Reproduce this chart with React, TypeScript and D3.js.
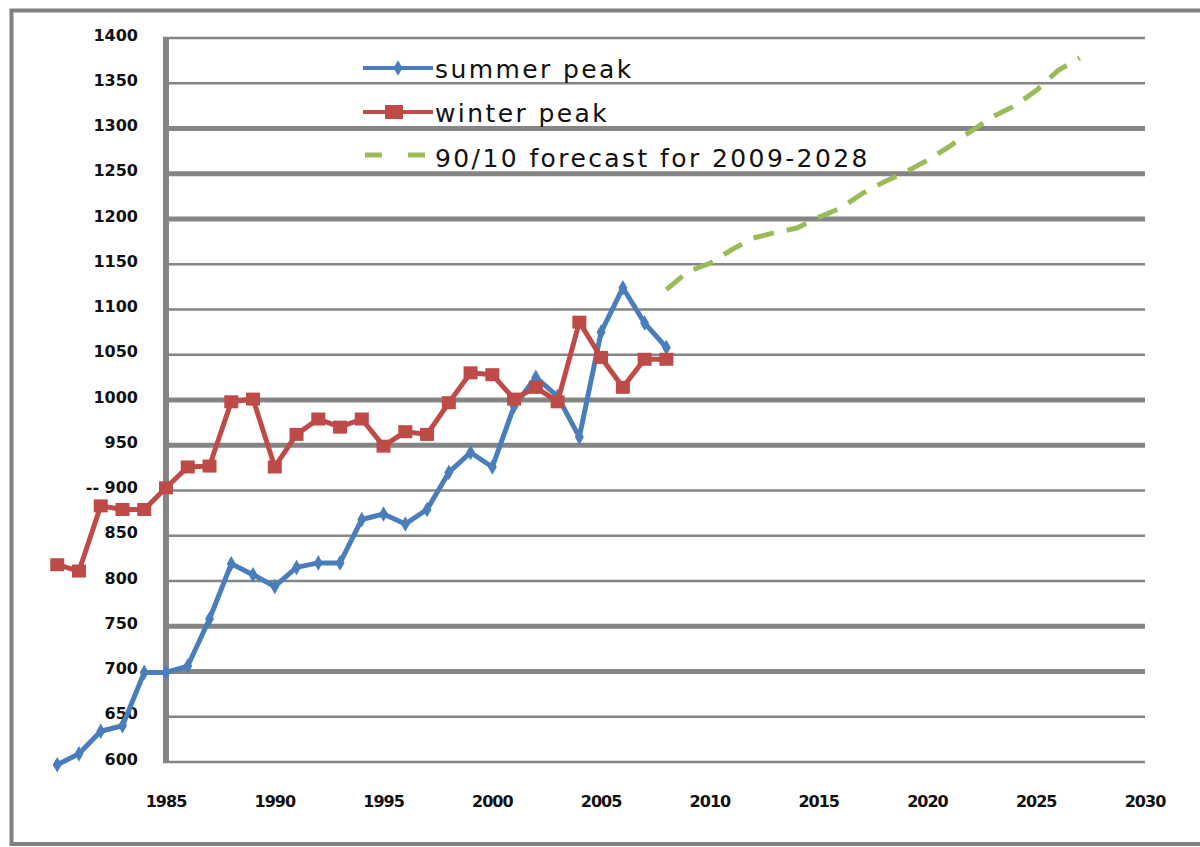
import React from 'react';
import * as d3 from 'd3';

const width = 1200;
const height = 847;

// observed peaks, 1980-2008
const histYears = [1980, 1981, 1982, 1983, 1984, 1985, 1986, 1987, 1988, 1989, 1990, 1991, 1992, 1993, 1994,
  1995, 1996, 1997, 1998, 1999, 2000, 2001, 2002, 2003, 2004, 2005, 2006, 2007, 2008];
const summerPeak = [597, 609, 634, 640, 699, 699, 706, 758, 819, 807, 794, 815, 820, 820, 868,
  874, 863, 879, 920, 942, 926, 993, 1025, 1004, 959, 1075, 1124, 1085, 1058];
const winterPeak = [818, 811, 883, 879, 879, 903, 926, 927, 998, 1001, 926, 962, 979, 970, 979,
  949, 965, 962, 997, 1030, 1028, 1001, 1014, 998, 1086, 1047, 1014, 1045, 1045];

// 90/10 forecast
const forecastYears = [2008, 2009, 2010, 2011, 2012, 2013, 2014, 2015, 2016, 2017, 2018, 2019, 2020,
  2021, 2022, 2023, 2024, 2025, 2026, 2027];
const forecast = [1122, 1142, 1151, 1166, 1179, 1185, 1190, 1202, 1212, 1228, 1241, 1252, 1265,
  1280, 1297, 1313, 1325, 1342, 1364, 1378];

const xTicks = [1985, 1990, 1995, 2000, 2005, 2010, 2015, 2020, 2025, 2030];
const yTicks = [600, 650, 700, 750, 800, 850, 900, 950, 1000, 1050, 1100, 1150, 1200, 1250, 1300, 1350, 1400];
const yTickLabels = ['600', '650', '700', '750', '800', '850', '-- 900', '950', '1000', '1050', '1100',
  '1150', '1200', '1250', '1300', '1350', '1400'];
const heavyGrid = [700, 750, 950, 1000, 1200, 1250, 1300];

const seriesNames = ['summer peak', 'winter peak', '90/10 forecast for 2009-2028'];

const blue = '#4A7EBB';
const red = '#BE4B48';
const green = '#9BBB59';
const gridGray = '#858585';

const xScale = d3.scaleLinear().domain([1985, 2030]).range([166, 1145]);
const yScale = d3.scaleLinear().domain([600, 1400]).range([762, 38]);

const line = d3.line<[number, number]>()
  .x(d => xScale(d[0]))
  .y(d => yScale(d[1]));

const diamond = d3.symbol().type(d3.symbolDiamond).size(70)();

const tickFont = '"DejaVu Sans", Verdana, sans-serif';

function App() {
  const summer = histYears.map((y, i) => [y, summerPeak[i]] as [number, number]);
  const winter = histYears.map((y, i) => [y, winterPeak[i]] as [number, number]);
  const fc = forecastYears.map((y, i) => [y, forecast[i]] as [number, number]);
  const [x0, x1] = xScale.range();

  return (
    <svg width={width} height={height} style={{ position: 'absolute', left: 0, top: 0, background: '#fff' }}>
      <rect x={11.5} y={10.5} width={1200} height={833.5} fill="none" stroke="#808080" strokeWidth={4} />

      {/* gridlines */}
      {yTicks.map(t => (
        <line key={t} x1={x0 - 3} x2={x1} y1={yScale(t)} y2={yScale(t)}
          stroke={gridGray} strokeWidth={heavyGrid.includes(t) ? 5 : 2.5} />
      ))}
      <line x1={x0} x2={x0} y1={yScale(1400) - 1} y2={yScale(600) + 1} stroke={gridGray} strokeWidth={6} />

      {/* y labels */}
      {yTicks.map((t, i) => (
        <text key={t} x={138} y={yScale(t) - 2} textAnchor="end" dominantBaseline="middle"
          fontFamily={tickFont} fontWeight="bold" fontSize={16} fill="#111">{yTickLabels[i]}</text>
      ))}

      {/* x labels */}
      {xTicks.map(t => (
        <text key={t} x={xScale(t)} y={802} textAnchor="middle" dominantBaseline="middle"
          fontFamily={tickFont} fontWeight="bold" fontSize={16} fill="#111" letterSpacing={-1}>{t}</text>
      ))}

      {/* forecast */}
      <path d={line(fc)!} fill="none" stroke={green} strokeWidth={5} strokeDasharray="21 13" />

      {/* summer */}
      <path d={line(summer)!} fill="none" stroke={blue} strokeWidth={5} strokeLinejoin="round" />
      {summer.map(d => (
        <path key={d[0]} d={diamond} transform={`translate(${xScale(d[0])},${yScale(d[1])})`} fill={blue} />
      ))}

      {/* winter */}
      <path d={line(winter)!} fill="none" stroke={red} strokeWidth={5} strokeLinejoin="round" />
      {winter.map(d => (
        <rect key={d[0]} x={xScale(d[0]) - 7} y={yScale(d[1]) - 6.5} width={14} height={13} fill={red} />
      ))}

      {/* legend */}
      <g fontFamily={tickFont} fontSize={25} fill="#111" letterSpacing={2.4}>
        <line x1={363} x2={433} y1={68} y2={68} stroke={blue} strokeWidth={4} />
        <path d={diamond} transform="translate(398,68)" fill={blue} />
        <text x={435} y={78}>{seriesNames[0]}</text>

        <line x1={363} x2={433} y1={112} y2={112} stroke={red} strokeWidth={4} />
        <rect x={385} y={105} width={18} height={14} fill={red} />
        <text x={435} y={122}>{seriesNames[1]}</text>

        <line x1={365} x2={382} y1={155} y2={155} stroke={green} strokeWidth={5} />
        <line x1={408} x2={425} y1={155} y2={155} stroke={green} strokeWidth={5} />
        <text x={435} y={167}>{seriesNames[2]}</text>
      </g>
    </svg>
  );
}

export default App;
